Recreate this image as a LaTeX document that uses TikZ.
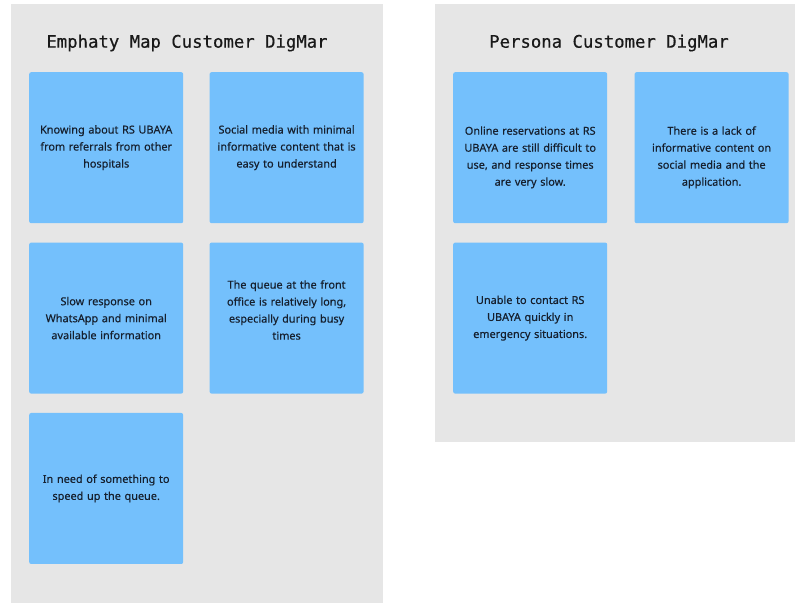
\documentclass[tikz,border=0pt]{standalone}
\usepackage{fontspec}
\setmainfont{Noto Sans}[FakeBold=0.4]
\newfontfamily\headfont{DejaVu Sans Mono}[FakeBold=0.5]
\usetikzlibrary{positioning}

\definecolor{panelGray}{RGB}{230,230,230}
\definecolor{noteBlue}{RGB}{116,192,252}
\definecolor{noteInk}{RGB}{22,32,46}

\begin{document}
\begin{tikzpicture}[x=1pt, y=1pt,
    panel/.style={fill=panelGray, inner sep=0pt, anchor=north west},
    heading/.style={font=\headfont\fontsize{17.3}{20}\selectfont, text=black!90},
    note/.style={fill=noteBlue, rounded corners=2pt, inner sep=0pt,
      minimum width=154pt, minimum height=151pt, text width=150pt, align=center,
      text=noteInk, font=\fontsize{10.9}{17}\selectfont}]
    \useasboundingbox (0,0) rectangle (795,605);

    \node[panel, minimum width=372pt, minimum height=599pt] (empathyPanel) at (11,601) {};
    \node[panel, minimum width=360pt, minimum height=438pt] (personaPanel) at (435,601) {};

    \node[heading] (empathyTitle) at (187,562) {Emphaty Map Customer DigMar};
    \node[heading] (personaTitle) at (609,562) {Persona Customer DigMar};

    \node[note, anchor=north west] (referralNote) at (29,533) {Knowing about RS UBAYA\\from referrals from other\\hospitals};
    \node[note, right=26pt of referralNote] (socialNote) {Social media with minimal\\informative content that is\\easy to understand};
    \node[note, below=19pt of referralNote] (whatsappNote) {Slow response on\\WhatsApp and minimal\\available information};
    \node[note, below=19pt of socialNote, text height=8pt, text depth=67pt] (queueNote) {The queue at the front\\office is relatively long,\\especially during busy\\times};
    \node[note, below=19pt of whatsappNote] (speedNote) {In need of something to\\speed up the queue.};

    \node[note, anchor=north west, text height=28pt, text depth=54pt] (reservationNote) at (453,533) {Online reservations at RS\\UBAYA are still difficult to\\use, and response times\\are very slow.};
    \node[note, right=27pt of reservationNote, text height=28pt, text depth=54pt] (contentNote) {There is a lack of\\informative content on\\social media and the\\application.};
    \node[note, below=19pt of reservationNote] (emergencyNote) {Unable to contact RS\\UBAYA quickly in\\emergency situations.};
\end{tikzpicture}
\end{document}
